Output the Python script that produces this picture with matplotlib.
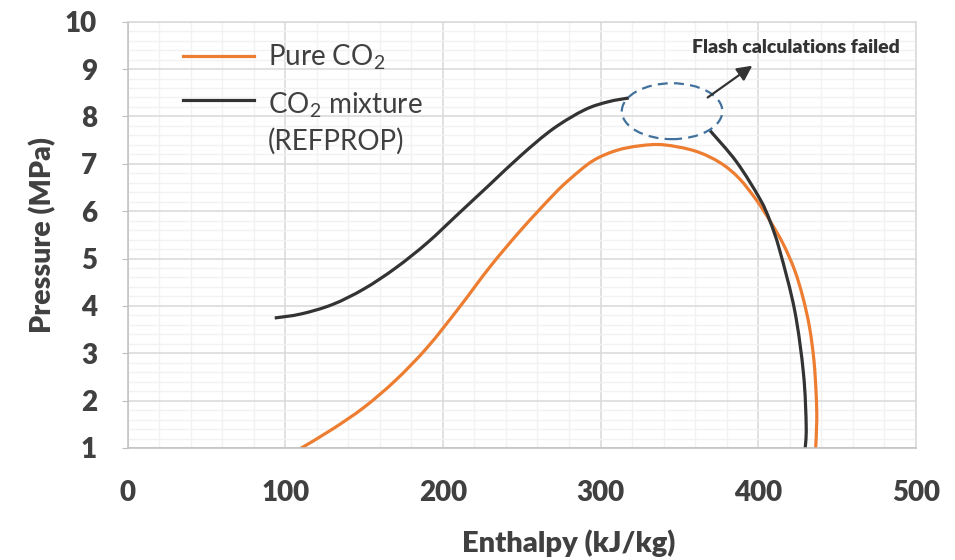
import numpy as np
import matplotlib
matplotlib.use("Agg")
import matplotlib.pyplot as plt
from matplotlib.patches import Ellipse, PathPatch
from matplotlib.path import Path
from matplotlib.lines import Line2D
from matplotlib.legend_handler import HandlerLine2D
from matplotlib.ticker import MultipleLocator

plt.rcParams['font.family'] = ['Lato', 'DejaVu Sans']
plt.rcParams['mathtext.fontset'] = 'custom'
plt.rcParams['mathtext.rm'] = 'Lato'
plt.rcParams['mathtext.bf'] = 'Lato:bold'

# pure CO2 saturation dome (enthalpy kJ/kg, pressure MPa)
pure_h = [109.7, 130, 150, 170, 190, 210, 230, 250, 270, 280, 295, 310, 325, 340, 360,
          376, 388, 399, 407.4, 416, 423.2, 428.4, 432.6, 435.4, 436.8, 437.2, 436.4]
pure_p = [0.99, 1.40, 1.86, 2.43, 3.12, 3.95, 4.83, 5.62, 6.34, 6.66, 7.06, 7.28,
          7.38, 7.40, 7.27, 7.02, 6.69, 6.23, 5.80, 5.30, 4.75, 4.18, 3.55, 2.85,
          2.14, 1.58, 0.94]

# CO2 mixture from REFPROP, split where the flash calculation did not converge
mix_liq_h = [93.3, 110, 130, 150, 170, 190, 210, 230, 250, 270, 290, 305, 318]
mix_liq_p = [3.745, 3.83, 4.03, 4.36, 4.80, 5.33, 5.95, 6.57, 7.19, 7.74, 8.14,
             8.31, 8.39]
mix_vap_h = [369.5, 386.3, 401.1, 407.4, 413.7, 423.2, 428.8, 430.5, 429.7]
mix_vap_p = [7.70, 7.04, 6.26, 5.80, 5.17, 3.90, 2.56, 1.44, 0.94]

# region where flash calculations failed
fail_center = (345.4, 8.11)
fail_width = 63.8
fail_height = 1.18

ORANGE = '#ED7D31'
DARK = '#333333'
TEXT = '#404040'
LW = 2.3


def smooth_line(xs, ys):
    """Smoothed line through the points (cubic Bezier segments, like a spreadsheet's smooth line)."""
    pts = np.column_stack([xs, ys]).astype(float)
    n = len(pts)
    verts = [pts[0]]
    codes = [Path.MOVETO]
    for i in range(n - 1):
        p0 = pts[i - 1] if i > 0 else pts[i]
        p1, p2 = pts[i], pts[i + 1]
        p3 = pts[i + 2] if i + 2 < n else pts[i + 1]
        verts += [p1 + (p2 - p0) / 6, p2 - (p3 - p1) / 6, p2]
        codes += [Path.CURVE4] * 3
    return Path(verts, codes)


class FirstLineHandler(HandlerLine2D):
    """Put the legend line next to the first line of a two-line label."""

    def __init__(self, shift, **kw):
        super().__init__(**kw)
        self.shift = shift

    def create_artists(self, legend, orig_handle, xdescent, ydescent,
                       width, height, fontsize, trans):
        artists = super().create_artists(legend, orig_handle, xdescent, ydescent,
                                         width, height, fontsize, trans)
        for a in artists:
            a.set_ydata(np.asarray(a.get_ydata()) + self.shift * fontsize)
        return artists


fig = plt.figure(figsize=(9.55, 5.6), dpi=100)
ax = fig.add_axes([0.1337, 0.2, 0.8252, 0.7613])

for xs, ys, c in [(pure_h, pure_p, ORANGE),
                  (mix_liq_h, mix_liq_p, DARK),
                  (mix_vap_h, mix_vap_p, DARK)]:
    ax.add_patch(PathPatch(smooth_line(xs, ys), fill=False, edgecolor=c,
                           lw=LW, capstyle='butt', joinstyle='round'))

ax.add_patch(Ellipse(fail_center, fail_width, fail_height, fill=False,
                     edgecolor='#41719C', lw=1.6, linestyle=(0, (4.5, 2.8))))
ax.annotate('', xy=(396.3, 9.07), xytext=(368, 8.40),
            arrowprops=dict(arrowstyle='-|>,head_length=0.9,head_width=0.45',
                            color=DARK, lw=1.6, shrinkA=0, shrinkB=0))
ax.text(424, 9.45, 'Flash calculations failed', fontsize=14, fontweight='heavy',
        color=DARK, ha='center', va='center')

ax.set_xlim(0, 500)
ax.set_ylim(1, 10)
ax.xaxis.set_major_locator(MultipleLocator(100))
ax.xaxis.set_minor_locator(MultipleLocator(20))
ax.yaxis.set_major_locator(MultipleLocator(1))
ax.yaxis.set_minor_locator(MultipleLocator(0.2))
ax.grid(which='major', color='#d9d9d9', lw=1.1)
ax.grid(which='minor', color='#f2f2f2', lw=1.0)
ax.set_axisbelow(True)

for s in ax.spines.values():
    s.set_color('#d9d9d9')
    s.set_linewidth(1.1)
ax.spines['left'].set_color('#bfbfbf')
ax.spines['bottom'].set_color('#bfbfbf')

ax.tick_params(which='minor', length=0)
ax.tick_params(axis='x', which='major', length=0, pad=23, labelsize=20,
               labelcolor=TEXT)
ax.tick_params(axis='y', which='major', length=4, color='#bfbfbf', pad=18,
               labelsize=20, labelcolor=TEXT)
for lab in ax.get_xticklabels() + ax.get_yticklabels():
    lab.set_fontweight('heavy')

ax.set_xlabel('Enthalpy (kJ/kg)', fontsize=21, fontweight='heavy', color=TEXT)
ax.xaxis.set_label_coords(0.56, -0.223)
ax.xaxis.label.set_va('center')
ax.set_ylabel('Pressure (MPa)', fontsize=20.5, fontweight='heavy', color=TEXT)
ax.yaxis.set_label_coords(-0.108, 0.5)
ax.yaxis.label.set_va('center')

h_pure = Line2D([], [], color=ORANGE, lw=LW)
h_mix = Line2D([], [], color=DARK, lw=LW)
leg = ax.legend([h_pure, h_mix], ['Pure CO$_\\mathregular{2}$',
                                  'CO$_\\mathregular{2}$ mixture\n(REFPROP)'],
                loc='upper left', bbox_to_anchor=(0.0385, 1.01), frameon=False,
                fontsize=20, handlelength=2.55, handletextpad=0.5,
                labelspacing=0.66, labelcolor=TEXT,
                handler_map={h_mix: FirstLineHandler(0.86)})
leg.get_texts()[1].set_linespacing(1.35)

fig.savefig('out.png', dpi=100)
